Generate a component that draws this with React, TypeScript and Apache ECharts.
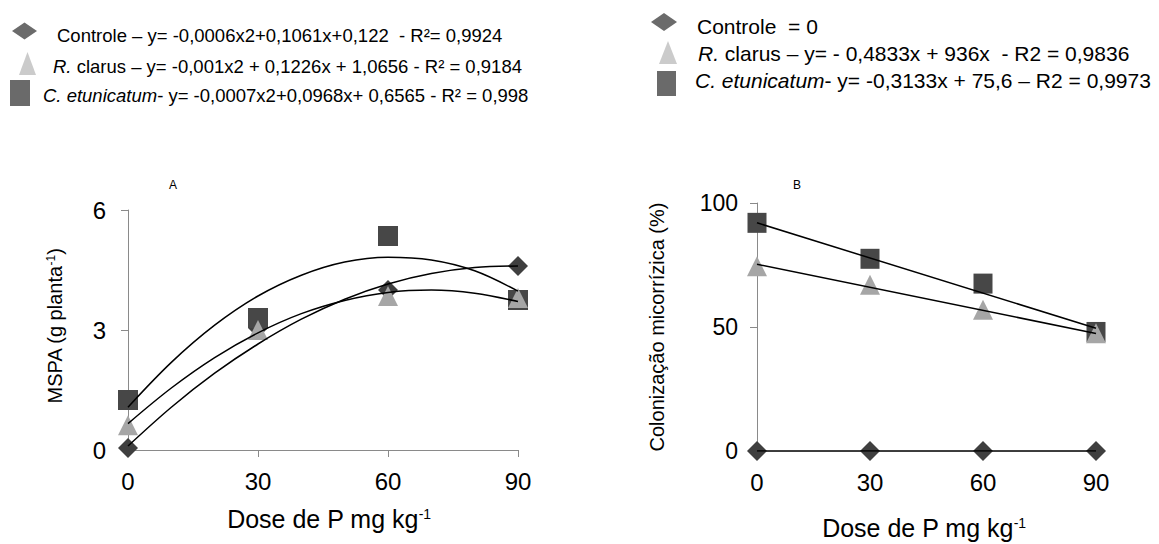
import React, { useEffect, useRef } from "react";
import * as echarts from "echarts";

// ---------- data ----------
const doses = [0, 30, 60, 90];
const xTicks = [0, 30, 60, 90];

// Panel A – MSPA (g planta-1)
const aControle = [0.05, 3.05, 4.0, 4.6];
const aClarus = [0.62, 3.0, 3.85, 3.8];
const aEtunicatum = [1.25, 3.3, 5.35, 3.75];
// trend curves
const aTrendDoses = [0, 10, 20, 30, 40, 50, 60, 70, 80, 90];
const aTrendUpper = [1.07, 2.19, 3.12, 3.85, 4.37, 4.7, 4.82, 4.75, 4.48, 3.97];
const aTrendMiddle = [0.66, 1.55, 2.31, 2.93, 3.41, 3.74, 3.94, 4.0, 3.92, 3.71];
const aTrendLower = [0.1, 1.07, 1.92, 2.65, 3.27, 3.77, 4.15, 4.41, 4.56, 4.6];

// Panel B – Colonização micorrízica (%)
const bControle = [0, 0, 0, 0];
const bClarus = [74.5, 67, 57, 47.5];
const bEtunicatum = [92, 77.5, 67.5, 48];
const bTrendDoses = [0, 90];
const bTrendUpper = [92, 49.5];
const bTrendLower = [75.3, 47.4];
const bTrendZero = [0, 0];

const FONT = "'Liberation Sans', Arial, sans-serif";
const AXIS_GREY = "#8a8a8a";
const C_DIAMOND = "#3f3f3f";
const C_SQUARE = "#474747";
const C_TRIANGLE = "#a6a6a6";

const pairs = (xs: number[], ys: number[]) => xs.map((x, i) => [x, ys[i]]);

function App() {
  const ref = useRef<HTMLDivElement>(null);

  useEffect(() => {
    if (!ref.current) return;
    const chart = echarts.init(ref.current, undefined, { renderer: "svg" });

    const xAxisBase = (gridIndex: number) => ({
      gridIndex,
      type: "value" as const,
      min: 0,
      max: 90,
      interval: 30,
      axisLine: { show: true, onZero: false, lineStyle: { color: AXIS_GREY, width: 1 } },
      axisTick: { show: true, length: 7, lineStyle: { color: AXIS_GREY } },
      axisLabel: {
        fontSize: 24,
        color: "#000",
        margin: 19,
        fontFamily: FONT,
        formatter: (v: number) => (xTicks.includes(v) ? String(v) : ""),
      },
      splitLine: { show: false },
    });

    const scatter = (
      name: string,
      axis: number,
      ys: number[],
      symbol: string,
      size: number[],
      color: string
    ) => ({
      name,
      type: "scatter",
      xAxisIndex: axis,
      yAxisIndex: axis,
      data: pairs(doses, ys),
      symbol,
      symbolSize: size,
      itemStyle: { color, opacity: 1 },
      z: 3,
    });

    const trend = (axis: number, xs: number[], ys: number[], smooth: boolean | number) => ({
      type: "line",
      xAxisIndex: axis,
      yAxisIndex: axis,
      data: pairs(xs, ys),
      smooth,
      showSymbol: false,
      symbol: "none",
      lineStyle: { color: "#000", width: 1.5 },
      z: 5,
      silent: true,
    });

    const legendText = (x: number, y: number, text: string, size: number) => ({
      type: "text",
      x,
      y,
      style: {
        text,
        fontFamily: FONT,
        fontSize: size,
        fill: "#000",
        verticalAlign: "middle",
        align: "left",
        rich: {
          n: { fontFamily: FONT, fontSize: size, fill: "#000" },
          i: { fontFamily: FONT, fontSize: size, fontStyle: "italic", fill: "#000" },
        },
      },
    });

    const supRich = (size: number, sup: number) => ({
      n: { fontFamily: FONT, fontSize: size, fill: "#000" },
      s: { fontFamily: FONT, fontSize: sup, fill: "#000", verticalAlign: "top" },
    });

    chart.setOption({
      animation: false,
      backgroundColor: "#fff",
      grid: [
        { left: 128, top: 210, width: 390, height: 240 },
        { left: 757, top: 203, width: 339, height: 248 },
      ],
      xAxis: [xAxisBase(0), xAxisBase(1)],
      yAxis: [
        {
          gridIndex: 0,
          type: "value",
          min: 0,
          max: 6,
          interval: 3,
          axisLine: { show: true, lineStyle: { color: AXIS_GREY, width: 1 } },
          axisTick: { show: true, length: 7, lineStyle: { color: AXIS_GREY } },
          axisLabel: { fontSize: 24, color: "#000", margin: 22, fontFamily: FONT },
          splitLine: { show: false },
        },
        {
          gridIndex: 1,
          type: "value",
          min: 0,
          max: 100,
          interval: 50,
          axisLine: { show: true, lineStyle: { color: AXIS_GREY, width: 1 } },
          axisTick: { show: true, length: 7, lineStyle: { color: AXIS_GREY } },
          axisLabel: { fontSize: 23, color: "#000", margin: 19, fontFamily: FONT },
          splitLine: { show: false },
        },
      ],
      series: [
        scatter("Controle", 0, aControle, "diamond", [20, 20], C_DIAMOND),
        scatter("C. etunicatum", 0, aEtunicatum, "rect", [20, 20], C_SQUARE),
        scatter("R. clarus", 0, aClarus, "triangle", [20, 20], C_TRIANGLE),
        trend(0, aTrendDoses, aTrendUpper, 0.35),
        trend(0, aTrendDoses, aTrendMiddle, 0.35),
        trend(0, aTrendDoses, aTrendLower, 0.35),

        scatter("Controle", 1, bControle, "diamond", [20, 20], C_DIAMOND),
        scatter("C. etunicatum", 1, bEtunicatum, "rect", [19, 20], C_SQUARE),
        scatter("R. clarus", 1, bClarus, "triangle", [20, 20], C_TRIANGLE),
        trend(1, bTrendDoses, bTrendUpper, false),
        trend(1, bTrendDoses, bTrendLower, false),
        trend(1, bTrendDoses, bTrendZero, false),
      ],
      graphic: [
        // ---- left legend ----
        {
          type: "polygon",
          shape: { points: [[12, 31], [24.5, 22.5], [37, 31], [24.5, 39.5]] },
          style: { fill: "#6b6b6b" },
        },
        {
          type: "polygon",
          shape: { points: [[27.5, 52], [36, 75], [19, 75]] },
          style: { fill: "#cbcbcb" },
        },
        { type: "rect", shape: { x: 10, y: 80, width: 20, height: 26 }, style: { fill: "#6a6a6a" } },
        legendText(57, 35, "{n|Controle – y= -0,0006x2+0,1061x+0,122  - R²= 0,9924}", 18.5),
        legendText(53, 66, "{i|R.}{n| clarus – y= -0,001x2 + 0,1226x + 1,0656 - R² = 0,9184}", 18.5),
        legendText(43, 95, "{i|C. etunicatum}{n|- y= -0,0007x2+0,0968x+ 0,6565 - R² = 0,998}", 18.5),

        // ---- right legend ----
        {
          type: "polygon",
          shape: { points: [[651, 22], [664, 13], [677, 22], [664, 31]] },
          style: { fill: "#6b6b6b" },
        },
        {
          type: "polygon",
          shape: { points: [[668, 41], [677, 64], [659, 64]] },
          style: { fill: "#cbcbcb" },
        },
        { type: "rect", shape: { x: 657, y: 71, width: 19, height: 25 }, style: { fill: "#6a6a6a" } },
        legendText(697, 26, "{n|Controle  = 0}", 21),
        legendText(698, 53, "{i|R.}{n| clarus – y= - 0,4833x + 936x  - R2 = 0,9836}", 21),
        legendText(695, 80, "{i|C. etunicatum}{n|- y= -0,3133x + 75,6 – R2 = 0,9973}", 21),

        // ---- panel letters ----
        {
          type: "text",
          x: 173,
          y: 185,
          style: { text: "A", fontFamily: FONT, fontSize: 12, fill: "#000", align: "center", verticalAlign: "middle" },
        },
        {
          type: "text",
          x: 797,
          y: 185,
          style: { text: "B", fontFamily: FONT, fontSize: 12, fill: "#000", align: "center", verticalAlign: "middle" },
        },

        // ---- axis titles ----
        {
          type: "text",
          x: 55,
          y: 326,
          rotation: Math.PI / 2,
          style: {
            text: "{n|MSPA (g planta}{s|-1}{n|)}",
            rich: supRich(20, 12),
            align: "center",
            verticalAlign: "middle",
          },
        },
        {
          type: "text",
          x: 657,
          y: 327,
          rotation: Math.PI / 2,
          style: {
            text: "Colonização micorrízica (%)",
            fontFamily: FONT,
            fontSize: 20,
            fill: "#000",
            align: "center",
            verticalAlign: "middle",
          },
        },
        {
          type: "text",
          x: 329,
          y: 519,
          style: {
            text: "{n|Dose de P mg kg}{s|-1}",
            rich: supRich(25, 14),
            align: "center",
            verticalAlign: "middle",
          },
        },
        {
          type: "text",
          x: 924,
          y: 528,
          style: {
            text: "{n|Dose de P mg kg}{s|-1}",
            rich: supRich(25, 14),
            align: "center",
            verticalAlign: "middle",
          },
        },
      ],
    });

    return () => chart.dispose();
  }, []);

  return (
    <div
      ref={ref}
      style={{ position: "absolute", left: 0, top: 0, width: 1159, height: 544, background: "#fff" }}
    />
  );
}

export default App;
